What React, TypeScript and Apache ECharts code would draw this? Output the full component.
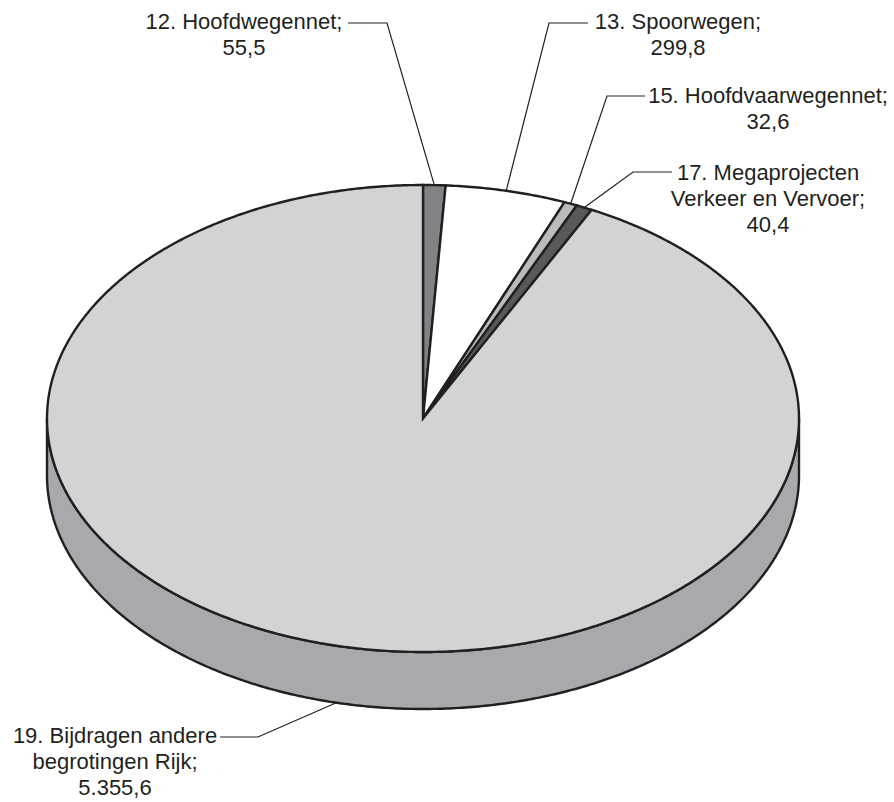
import React, { useEffect, useRef } from "react";
import * as echarts from "echarts";

// ---- data ----
const categories: string[] = [
  "12. Hoofdwegennet;",
  "13. Spoorwegen;",
  "15. Hoofdvaarwegennet;",
  "17. Megaprojecten\nVerkeer en Vervoer;",
  "19. Bijdragen andere\nbegrotingen Rijk;",
];
const values: number[] = [55.5, 299.8, 32.6, 40.4, 5355.6];
const sliceColors: string[] = ["#808285", "#ffffff", "#b9bbbd", "#58595b", "#d1d3d4"];
const sideColors: string[] = ["#606164", "#cfd0d2", "#8e9093", "#404143", "#a7a9ac"];

// ---- layout (positions only) ----
const CX = 423;
const CY = 418.5;
const RX = 376;
const RY = 233.5;
const DEPTH = 57;
const INK = "#231f20";
const FONT = "Liberation Sans, Arial, Helvetica, sans-serif";
const FONT_SIZE = 22;

type LabelLayout = { tx: number; ty: number; lh: number; lineStart: [number, number]; elbow: [number, number] };
const labelLayout: LabelLayout[] = [
  { tx: 244, ty: 8, lh: 26.3, lineStart: [348, 23], elbow: [387, 23] },
  { tx: 678, ty: 8, lh: 26.3, lineStart: [588, 23], elbow: [549, 23] },
  { tx: 768, ty: 82.5, lh: 26.3, lineStart: [645, 96], elbow: [607, 96] },
  { tx: 768, ty: 159, lh: 26.3, lineStart: [672, 172], elbow: [633, 172] },
  { tx: 115, ty: 723, lh: 25.8, lineStart: [220, 737], elbow: [258, 737] },
];

function formatNL(v: number): string {
  const fixed = v.toFixed(1);
  const [intPart, dec] = fixed.split(".");
  const withDots = intPart.replace(/\B(?=(\d{3})+(?!\d))/g, ".");
  return withDots + "," + dec;
}

const rad = (d: number) => (d * Math.PI) / 180;
const topPt = (deg: number): [number, number] => [CX + RX * Math.sin(rad(deg)), CY - RY * Math.cos(rad(deg))];
const botPt = (deg: number): [number, number] => {
  const p = topPt(deg);
  return [p[0], p[1] + DEPTH];
};
function arc(a1: number, a2: number, fn: (d: number) => [number, number]): [number, number][] {
  const pts: [number, number][] = [];
  const n = Math.max(2, Math.ceil(Math.abs(a2 - a1) / 0.5));
  for (let i = 0; i <= n; i++) pts.push(fn(a1 + ((a2 - a1) * i) / n));
  return pts;
}

export default function App() {
  const ref = useRef<HTMLDivElement>(null);
  useEffect(() => {
    if (!ref.current) return;
    const chart = echarts.init(ref.current, undefined, { renderer: "svg" });
    const total = values.reduce((a, b) => a + b, 0);
    const startAngles: number[] = [];
    let acc = 0;
    values.forEach((v) => {
      startAngles.push((acc / total) * 360);
      acc += v;
    });

    const renderSide = (params: any, api: any) => {
      const i = params.dataIndex;
      const a1 = startAngles[i];
      const a2 = a1 + (api.value(0) / total) * 360;
      const s = Math.max(a1, 90);
      const e = Math.min(a2, 270);
      if (e <= s) return { type: "group", children: [] };
      const pts = [...arc(s, e, topPt), ...arc(e, s, botPt)];
      return {
        type: "polygon",
        shape: { points: pts },
        style: { fill: sideColors[i], stroke: INK, lineWidth: 2.4, lineJoin: "round" },
      };
    };

    const renderTop = (params: any, api: any) => {
      const i = params.dataIndex;
      const a1 = startAngles[i];
      const a2 = a1 + (api.value(0) / total) * 360;
      const pts: [number, number][] = [[CX, CY], ...arc(a1, a2, topPt)];
      return {
        type: "polygon",
        shape: { points: pts },
        style: { fill: sliceColors[i], stroke: INK, lineWidth: 2.4, lineJoin: "miter" },
      };
    };

    const renderLabel = (params: any, api: any) => {
      const i = params.dataIndex;
      const v = api.value(0);
      const a1 = startAngles[i];
      const mid = a1 + (v / total) * 180;
      const anchor = Math.cos(rad(mid)) < 0 ? botPt(mid) : topPt(mid);
      const L = labelLayout[i];
      return {
        type: "group",
        children: [
          {
            type: "polyline",
            shape: { points: [L.lineStart, L.elbow, anchor] },
            style: { stroke: INK, lineWidth: 1.2, fill: null },
          },
          {
            type: "text",
            x: L.tx,
            y: L.ty,
            style: {
              text: categories[i] + "\n" + formatNL(v),
              fill: INK,
              fontFamily: FONT,
              fontSize: FONT_SIZE,
              lineHeight: L.lh,
              align: "center",
              verticalAlign: "top",
            },
          },
        ],
      };
    };

    const data = values.map((v) => [v]);
    chart.setOption({
      animation: false,
      backgroundColor: "#ffffff",
      series: [
        { type: "custom", coordinateSystem: "none", renderItem: renderSide, data, z: 1, silent: true },
        { type: "custom", coordinateSystem: "none", renderItem: renderTop, data, z: 2, silent: true },
        { type: "custom", coordinateSystem: "none", renderItem: renderLabel, data, z: 3, silent: true },
      ],
    });
    return () => chart.dispose();
  }, []);
  return (
    <div
      ref={ref}
      style={{ position: "fixed", left: 0, top: 0, width: 894, height: 802, background: "#fff" }}
    />
  );
}
